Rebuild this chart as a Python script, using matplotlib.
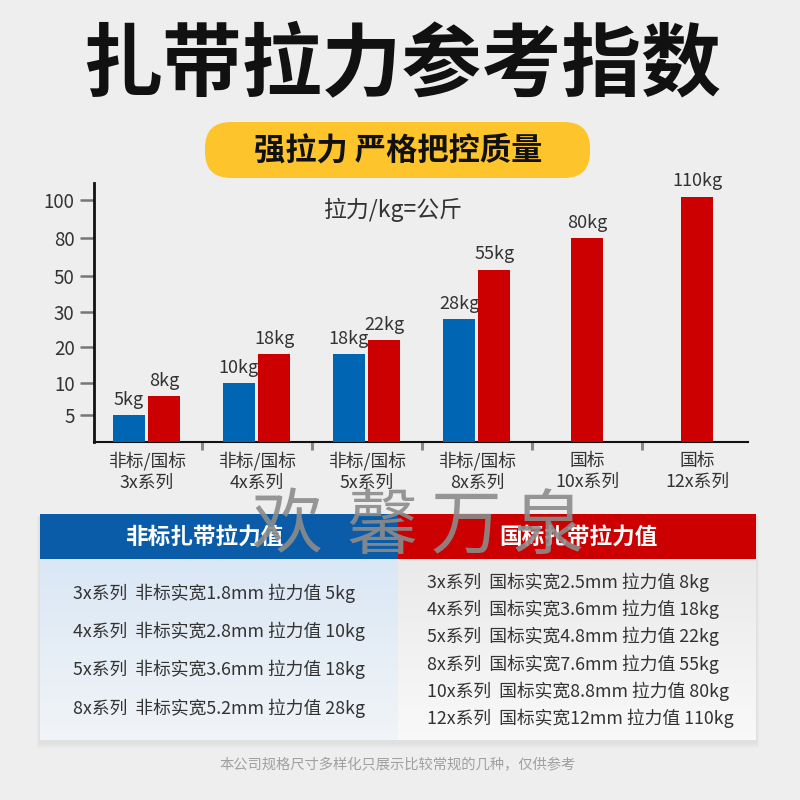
import numpy as np
import matplotlib
matplotlib.use('Agg')
import matplotlib.pyplot as plt
from matplotlib.patches import FancyBboxPatch, Rectangle

plt.rcParams['font.family'] = ['Noto Sans CJK SC', 'DejaVu Sans']

# ---------------- data ----------------
categories = ['非标/国标\n3x系列', '非标/国标\n4x系列', '非标/国标\n5x系列',
              '非标/国标\n8x系列', '国标\n10x系列', '国标\n12x系列']
nonstd_values = [5, 10, 18, 28, None, None]      # 非标 (blue)
std_values = [8, 18, 22, 55, 80, 110]            # 国标 (red)
y_ticks = [5, 10, 20, 30, 50, 80, 100]

title = '扎带拉力参考指数'
subtitle = '强拉力 严格把控质量'
unit_note = '拉力/kg=公斤'
header_left = '非标扎带拉力值'
header_right = '国标扎带拉力值'
nonstd_rows = ['3x系列  非标实宽1.8mm 拉力值 5kg',
               '4x系列  非标实宽2.8mm 拉力值 10kg',
               '5x系列  非标实宽3.6mm 拉力值 18kg',
               '8x系列  非标实宽5.2mm 拉力值 28kg']
std_rows = ['3x系列  国标实宽2.5mm 拉力值 8kg',
            '4x系列  国标实宽3.6mm 拉力值 18kg',
            '5x系列  国标实宽4.8mm 拉力值 22kg',
            '8x系列  国标实宽7.6mm 拉力值 55kg',
            '10x系列  国标实宽8.8mm 拉力值 80kg',
            '12x系列  国标实宽12mm 拉力值 110kg']
footer = '本公司规格尺寸多样化只展示比较常规的几种，仅供参考'
watermark = ['欢', '馨', '万', '泉']

BLUE = '#0066b3'
RED = '#cc0000'
TXT = '#333333'

fig = plt.figure(figsize=(8, 8), dpi=100)
fig.patch.set_facecolor('#eeeeee')

# background axes in pixel coordinates
bg = fig.add_axes([0, 0, 1, 1], zorder=0)
bg.axis('off')

# title
bg.text(402, 67, title, ha='center', va='center', fontsize=57.5,
        fontweight='heavy', color='#111111')

# yellow pill
pill = FancyBboxPatch((205, 122), 385, 56,
                      boxstyle='round,pad=0,rounding_size=26',
                      facecolor='#fdc42b', edgecolor='none')
bg.add_patch(pill)
bg.text(398, 151, subtitle, ha='center', va='center', fontsize=22.5,
        fontweight='bold', color='#111111')

# bottom panel shadow
for i in range(3):
    bg.add_patch(Rectangle((40 - 1 - i, 514 + 2), 716 + 2 + 2 * i, 226 + 2 + 2 * i,
                           facecolor='#9a9a9a', alpha=0.05, edgecolor='none'))
# gradient bodies
grad = np.linspace(0, 1, 200).reshape(-1, 1)
left_top = np.array([0.855, 0.906, 0.961])
left_bot = np.array([0.945, 0.957, 0.969])
left_img = left_top + (left_bot - left_top) * grad[:, :, None]
left_img = np.repeat(left_img, 2, axis=1)
bg.imshow(left_img, extent=(40, 398, 740, 559), aspect='auto', zorder=1,
          interpolation='bilinear')
right_top = np.array([0.918, 0.918, 0.918])
right_bot = np.array([0.975, 0.975, 0.975])
right_img = right_top + (right_bot - right_top) * grad[:, :, None]
right_img = np.repeat(right_img, 2, axis=1)
bg.imshow(right_img, extent=(398, 756, 740, 559), aspect='auto', zorder=1,
          interpolation='bilinear')
bg.set_xlim(0, 800)
bg.set_ylim(800, 0)

bg.add_patch(Rectangle((40, 514), 358, 45, facecolor='#0a5ba8', edgecolor='none', zorder=2))
bg.add_patch(Rectangle((398, 514), 358, 45, facecolor=RED, edgecolor='none', zorder=2))
bg.text(204, 537, header_left, ha='center', va='center', fontsize=16.3,
        fontweight='bold', color='white', zorder=3)
bg.text(578, 537, header_right, ha='center', va='center', fontsize=16.3,
        fontweight='bold', color='white', zorder=3)

for i, row in enumerate(nonstd_rows):
    bg.text(73, 593 + i * 38.3, row, ha='left', va='center', fontsize=12.8,
            color=TXT, zorder=3)
for i, row in enumerate(std_rows):
    bg.text(427, 582 + i * 27.3, row, ha='left', va='center', fontsize=12.8,
            color=TXT, zorder=3)

bg.text(398, 765, footer, ha='center', va='center', fontsize=10.3,
        color='#a0a0a0', zorder=3)

for ch, xc in zip(watermark, [287, 382, 466, 548]):
    bg.text(xc, 527, ch, ha='center', va='center', fontsize=51,
            color='#8c8c8c', alpha=0.9, zorder=5)

# ---------------- chart ----------------
ax = fig.add_axes([94 / 800, 1 - 442 / 800, 654 / 800, 259 / 800], zorder=2)
ax.set_facecolor('none')

scale_vals = [0, 5, 10, 20, 30, 50, 80, 100, 150]
scale_pos = [0, 27, 59, 95, 130, 166, 204, 242, 259]


def fwd(v):
    return np.interp(v, scale_vals, scale_pos)


def inv(p):
    return np.interp(p, scale_pos, scale_vals)


ax.set_yscale('function', functions=(fwd, inv))
ax.set_ylim(0, 150)

x = np.arange(len(categories))
w = 0.29
for xi, nv, sv in zip(x, nonstd_values, std_values):
    if nv is not None:
        xb, xr = xi - 0.165, xi + 0.155
        ax.bar(xb, nv, width=w, color=BLUE, zorder=3)
        ax.annotate(f'{nv}kg', (xb, nv), xytext=(0, 4.5), textcoords='offset points',
                    ha='center', va='bottom', fontsize=13, color=TXT)
    else:
        xr = xi
    ax.bar(xr, sv, width=w, color=RED, zorder=3)
    ax.annotate(f'{sv}kg', (xr, sv), xytext=(0, 4.5), textcoords='offset points',
                ha='center', va='bottom', fontsize=13, color=TXT)

ax.set_xlim(-0.48, 5.46)
ax.set_xticks(x)
ax.set_xticklabels(categories, fontsize=12.8, color=TXT, linespacing=1.2)
ax.tick_params(axis='x', which='major', length=0, pad=7)
ax.set_xticks(x[:-1] + 0.5, minor=True)
ax.tick_params(axis='x', which='minor', length=6, width=2.2, color='#888888',
               direction='out')

ax.set_yticks(y_ticks)
ax.set_yticklabels([str(t) for t in y_ticks], fontsize=13.5, color=TXT)
ax.yaxis.set_minor_locator(matplotlib.ticker.NullLocator())
ax.tick_params(axis='y', length=10, width=1.8, color='#777777', pad=4)

for s in ['top', 'right']:
    ax.spines[s].set_visible(False)
ax.spines['left'].set_linewidth(2)
ax.spines['left'].set_color('#111111')
ax.spines['bottom'].set_linewidth(1.5)
ax.spines['bottom'].set_color('#111111')

ax.text(0.457, 0.895, unit_note, transform=ax.transAxes, ha='center', va='center',
        fontsize=16.5, color=TXT)

fig.savefig('out.png', dpi=100, facecolor=fig.get_facecolor())
